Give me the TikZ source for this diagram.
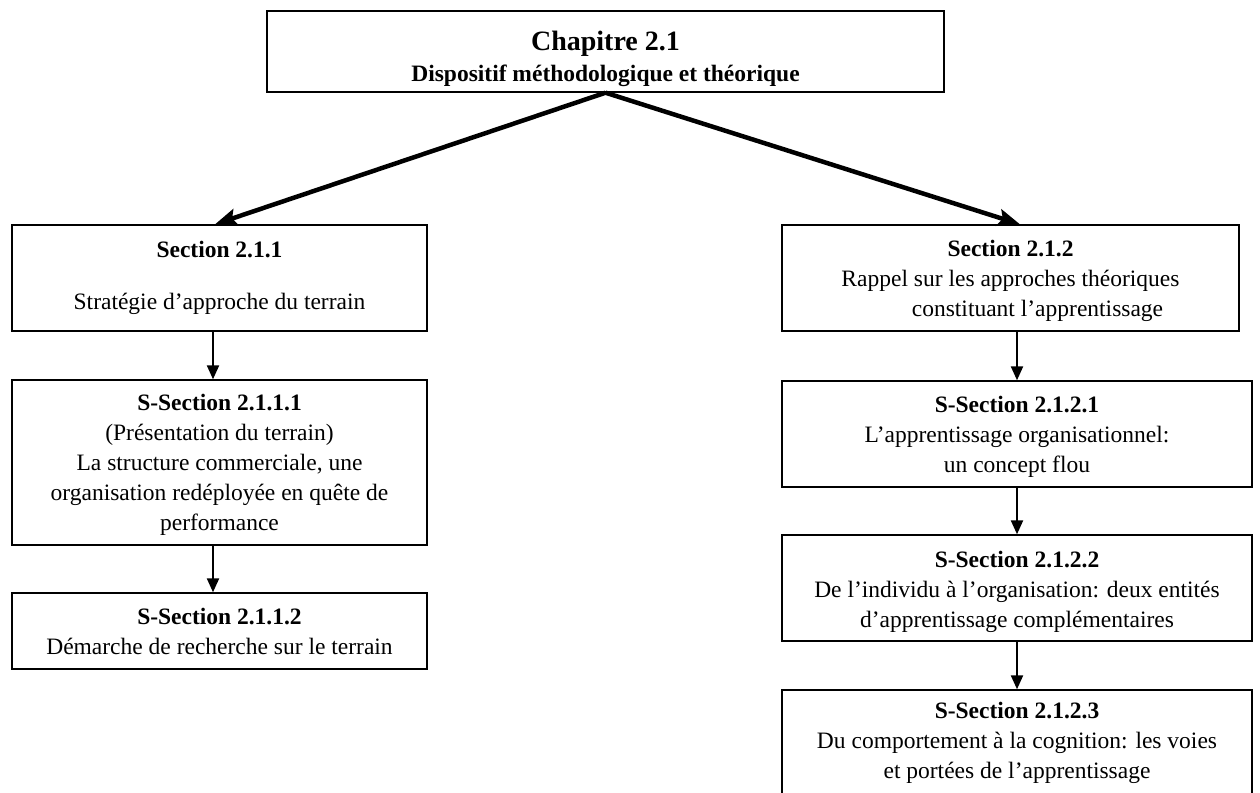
\documentclass[tikz,border=0pt]{standalone}
\usepackage{fontspec}
\setmainfont{Liberation Serif}
\usetikzlibrary{arrows.meta}
\newcommand\lowr[1]{\rule{0pt}{#1pt}}
\begin{document}
\begin{tikzpicture}[x=1pt,y=-1pt,
  box/.style={draw=black, line width=1.4pt, fill=white, align=center, inner sep=0pt,
    font=\fontsize{23.5}{30}\selectfont},
  bigarrow/.style={line width=4.5pt, -{Stealth[length=22pt,width=17pt,inset=4pt]}},
  downarrow/.style={line width=2.2pt, -{Triangle[length=14pt,width=12pt]}}
]
\useasboundingbox (0,0) rectangle (1260,792);
\node[box, minimum width=677pt, minimum height=81pt] (top) at (605.5,51.5)
  {{\fontsize{28}{32}\selectfont\bfseries\lowr{34}Chapitre 2.1}\\[1pt]\textbf{Dispositif méthodologique et théorique}};
\node[box, minimum width=415pt, minimum height=106pt] (sec1) at (219.5,278)
  {\textbf{Section 2.1.1}\\[22pt]Stratégie d’approche du terrain};
\node[box, minimum width=415pt, minimum height=165pt] (sec11) at (219.5,462.5)
  {\textbf{\lowr{20}S-Section 2.1.1.1}\\(Présentation du terrain)\\La structure commerciale, une\\organisation redéployée en quête de\\performance};
\node[box, minimum width=415pt, minimum height=76pt] (sec12) at (219.5,631)
  {\textbf{S-Section 2.1.1.2}\\Démarche de recherche sur le terrain};
\node[box, minimum width=457pt, minimum height=106pt] (sec2) at (1010.5,278)
  {\textbf{\lowr{22}Section 2.1.2}\\Rappel sur les approches théoriques\\\hspace*{54pt}constituant l’apprentissage};
\node[box, minimum width=470pt, minimum height=106pt] (sec21) at (1017,434)
  {\textbf{\lowr{22}S-Section 2.1.2.1}\\L’apprentissage organisationnel:\\un concept flou};
\node[box, minimum width=470pt, minimum height=106pt] (sec22) at (1017,588)
  {\textbf{\lowr{24}S-Section 2.1.2.2}\\De l’individu à l’organisation: deux entités\\d’apprentissage complémentaires};
\node[box, minimum width=470pt, minimum height=106pt] (sec23) at (1017,743)
  {\textbf{S-Section 2.1.2.3}\\Du comportement à la cognition: les voies\\et portées de l’apprentissage};
\draw[bigarrow] (top.south) -- ([xshift=-4.5pt]sec1.north);
\draw[bigarrow] (top.south) -- ([xshift=9.5pt]sec2.north);
\draw[downarrow] ([xshift=-6.5pt]sec1.south) -- ([xshift=-6.5pt]sec11.north);
\draw[downarrow] ([xshift=-6.5pt]sec11.south) -- ([xshift=-6.5pt]sec12.north);
\draw[downarrow] (sec2.south -| sec21.north) -- (sec21.north);
\draw[downarrow] (sec21.south) -- (sec22.north);
\draw[downarrow] (sec22.south) -- (sec23.north);
\end{tikzpicture}
\end{document}
